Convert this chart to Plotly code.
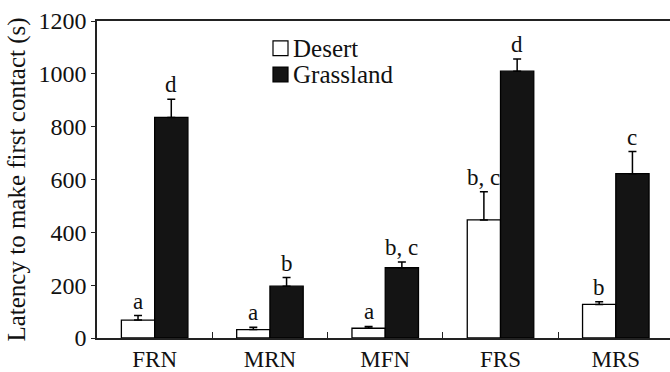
import plotly.graph_objects as go

categories = ["FRN", "MRN", "MFN", "FRS", "MRS"]
series_names = ["Desert", "Grassland"]
desert = [68, 32, 37, 447, 127]
desert_err = [17, 9, 7, 107, 10]
grassland = [835, 196, 266, 1010, 622]
grassland_err = [69, 33, 22, 46, 84]
desert_letters = ["a", "a", "a", "b, c", "b"]
grassland_letters = ["d", "b", "b, c", "d", "c"]
y_ticks = [0, 200, 400, 600, 800, 1000, 1200]

FONT = "Liberation Serif"
W, H = 670, 372
ML, MT, MB, MR = 97, 21, 31, 0
BARGAP = 0.423
XRANGE = [-0.5, 4.47]

plot_w = W - ML - MR
plot_h = H - MT - MB
px_per_cat = plot_w / (XRANGE[1] - XRANGE[0])
half_bar = (1 - BARGAP) / 4 * px_per_cat

fig = go.Figure()
fills = ["white", "#141414"]
vals = [desert, grassland]
errs = [desert_err, grassland_err]
for name, fill, v, e in zip(series_names, fills, vals, errs):
    fig.add_trace(go.Bar(
        x=categories, y=v, name=name,
        marker=dict(color=fill, line=dict(color="black", width=1.3)),
        error_y=dict(type="data", array=e, arrayminus=[0] * len(e), symmetric=False,
                     color="black", thickness=1.5, width=4),
        showlegend=False,
    ))

annotations = []
for letters, v, e, sh in [(desert_letters, desert, desert_err, -half_bar),
                          (grassland_letters, grassland, grassland_err, half_bar)]:
    for c, t, vv, ee in zip(categories, letters, v, e):
        annotations.append(dict(x=c, y=vv + ee, text=t, showarrow=False,
                                xref="x", yref="y", xshift=sh, yshift=0,
                                yanchor="bottom", xanchor="center",
                                font=dict(family=FONT, size=23, color="#111")))

# legend drawn as squares + text
shapes = []
leg_px_x = 273
leg_rows_py = [48.5, 75.0]
sq = 15
for name, fill, py in zip(series_names, fills, leg_rows_py):
    x0 = (leg_px_x - ML) / plot_w
    x1 = (leg_px_x + sq - ML) / plot_w
    y0 = (H - MB - (py + sq / 2)) / plot_h
    y1 = (H - MB - (py - sq / 2)) / plot_h
    shapes.append(dict(type="rect", xref="paper", yref="paper", x0=x0, x1=x1, y0=y0, y1=y1,
                       fillcolor=fill, line=dict(color="black", width=1.2)))
    annotations.append(dict(x=(leg_px_x + sq + 3 - ML) / plot_w, y=(H - MB - py) / plot_h,
                            xref="paper", yref="paper", text=name, showarrow=False,
                            xanchor="left", yanchor="middle", height=24, valign="middle",
                            font=dict(family=FONT, size=25, color="#111")))

fig.update_layout(
    width=W, height=H,
    margin=dict(l=ML, r=MR, t=MT, b=MB, pad=0),
    paper_bgcolor="white", plot_bgcolor="white",
    barmode="group", bargap=BARGAP, bargroupgap=0,
    font=dict(family=FONT, color="#111"),
    annotations=annotations, shapes=shapes,
    xaxis=dict(range=XRANGE, type="category", tickson="boundaries", ticks="inside",
               ticklen=6, tickwidth=1.2, tickcolor="#222", showline=True, linecolor="#222",
               linewidth=1.5, mirror=True, showgrid=False, zeroline=False,
               tickfont=dict(family=FONT, size=23, color="#111")),
    yaxis=dict(range=[0, 1200], tickvals=y_ticks, ticks="outside", ticklen=4,
               tickwidth=1.2, tickcolor="#222", showline=True, linecolor="#222",
               linewidth=1.5, showgrid=False, zeroline=False,
               tickfont=dict(family=FONT, size=24, color="#111"),
               title=dict(text="Latency to make first contact (s)", standoff=6,
                          font=dict(family=FONT, size=25, color="#111"))),
)

fig.write_html("out.html")
